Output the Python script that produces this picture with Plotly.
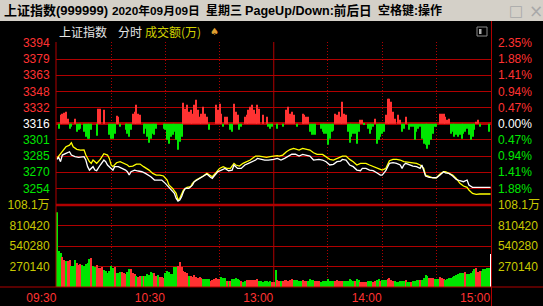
import plotly.graph_objects as go

# ---------------- data ----------------
prev_close = 3316.42
price_ticks = [3254.07, 3269.66, 3285.25, 3300.83, 3316.42, 3332.01, 3347.60, 3363.18, 3378.77, 3394.36]
price_labels = ["3254", "3270", "3285", "3301", "3316", "3332", "3348", "3363", "3379", "3394"]
pct_labels = ["1.88%", "1.41%", "0.94%", "0.47%", "0.00%", "0.47%", "0.94%", "1.41%", "1.88%", "2.35%"]
vol_ticks = [270140, 540280, 810420, 1080560]
vol_labels = ["270140", "540280", "810420", "108.1万"]
time_ticks = [0, 60, 120, 180, 240]
time_labels = ["09:30", "10:30", "13:00", "14:00", "15:00"]
grid_minutes = [30, 60, 90, 150, 180, 210]

white_min = [0, 1, 2, 3, 5, 7, 8, 10, 12, 14,
             15, 16, 17, 18, 19, 20, 21, 22, 24, 26,
             27, 28, 30, 31, 32, 34, 36, 38, 39, 40,
             41, 43, 45, 47, 49, 51, 52, 54, 56, 58,
             60, 62, 63, 65, 66, 67, 68, 69, 70, 71,
             73, 75, 76, 78, 80, 82, 83, 85, 86, 87,
             89, 91, 93, 95, 97, 98, 100, 102, 104, 106,
             108, 110, 111, 113, 115, 117, 119, 120, 122, 124,
             126, 128, 130, 132, 134, 136, 138, 140, 142, 144,
             145, 147, 149, 151, 153, 155, 157, 158, 160, 162,
             164, 166, 168, 169, 171, 173, 175, 177, 179, 180,
             182, 184, 186, 188, 190, 191, 192, 193, 195, 197,
             199, 201, 202, 203, 204, 206, 208, 210, 212, 214,
             215, 217, 219, 221, 223, 225, 227, 228, 230, 232,
             234, 236, 240]
white_px = [3282.0, 3283.9, 3279.8, 3286.2, 3287.8, 3289.4, 3286.2, 3284.6, 3283.9, 3283.9,
            3284.6, 3281.4, 3275.0, 3271.7, 3273.3, 3275.0, 3271.7, 3271.1, 3276.6, 3281.4,
            3279.8, 3276.6, 3273.3, 3271.7, 3275.0, 3275.0, 3273.3, 3271.7, 3270.1, 3266.9,
            3270.1, 3271.7, 3270.8, 3270.1, 3268.5, 3266.9, 3265.3, 3262.1, 3262.1, 3262.1,
            3258.9, 3255.0, 3252.4, 3249.2, 3244.4, 3241.8, 3242.8, 3246.0, 3250.8, 3254.0,
            3254.0, 3257.2, 3260.5, 3262.7, 3264.7, 3266.9, 3267.9, 3264.7, 3263.7, 3266.0,
            3270.1, 3271.7, 3273.3, 3271.1, 3271.7, 3276.6, 3273.3, 3273.3, 3276.6, 3278.2,
            3279.8, 3281.4, 3283.0, 3282.0, 3281.4, 3281.4, 3281.4, 3282.0, 3283.0, 3281.4,
            3283.0, 3284.6, 3287.0, 3287.0, 3285.2, 3286.8, 3286.2, 3285.2, 3281.4, 3282.0,
            3282.0, 3281.4, 3279.8, 3276.6, 3277.2, 3279.8, 3280.4, 3282.0, 3281.4, 3276.6,
            3275.0, 3271.7, 3271.1, 3273.3, 3273.3, 3271.7, 3271.1, 3269.1, 3266.9, 3266.9,
            3271.1, 3278.2, 3278.8, 3278.2, 3276.6, 3273.3, 3276.6, 3278.2, 3276.6, 3275.6,
            3275.0, 3273.3, 3276.6, 3271.7, 3265.9, 3264.7, 3264.7, 3264.3, 3266.9, 3270.1,
            3269.1, 3268.5, 3266.0, 3262.7, 3261.4, 3260.5, 3262.1, 3257.3, 3255.0, 3255.0,
            3255.6, 3255.0, 3255.0]

yellow_min = [0, 2, 4, 5, 7, 8, 9, 11, 13, 15,
              16, 18, 19, 20, 22, 24, 26, 28, 29, 30,
              31, 33, 35, 37, 39, 40, 42, 44, 46, 48,
              50, 51, 53, 55, 57, 59, 61, 62, 64, 66,
              67, 68, 70, 72, 74, 75, 77, 79, 81, 83,
              85, 86, 88, 90, 92, 94, 96, 98, 99, 101,
              103, 105, 107, 109, 110, 112, 114, 116, 118, 120,
              122, 123, 125, 127, 129, 131, 133, 134, 136, 138,
              140, 142, 144, 147, 149, 151, 153, 155, 157, 158,
              160, 162, 164, 166, 168, 171, 173, 175, 177, 179,
              180, 182, 184, 186, 188, 190, 192, 195, 197, 199,
              201, 203, 204, 206, 208, 210, 212, 214, 215, 217,
              219, 221, 223, 225, 227, 228, 230, 232, 234, 240]
yellow_px = [3283.0, 3287.8, 3292.6, 3294.2, 3295.8, 3298.1, 3294.2, 3291.7, 3291.0, 3291.2,
             3286.2, 3279.8, 3278.2, 3281.4, 3278.2, 3282.0, 3287.5, 3286.2, 3283.0, 3276.6,
             3275.0, 3278.8, 3279.8, 3278.2, 3276.6, 3275.0, 3275.6, 3277.5, 3277.5, 3275.0,
             3273.3, 3271.7, 3268.5, 3266.9, 3266.9, 3266.0, 3262.1, 3257.3, 3254.0, 3249.2,
             3242.8, 3244.4, 3252.4, 3255.0, 3255.6, 3258.9, 3262.1, 3263.7, 3266.0, 3268.5,
             3266.9, 3265.3, 3269.2, 3273.3, 3275.0, 3273.3, 3273.3, 3278.2, 3276.6, 3275.6,
             3278.2, 3279.8, 3281.4, 3284.0, 3285.2, 3285.2, 3284.6, 3284.0, 3284.6, 3285.2,
             3285.6, 3285.2, 3286.2, 3289.4, 3291.5, 3292.6, 3291.5, 3291.0, 3292.6, 3291.7,
             3291.0, 3288.4, 3286.8, 3286.8, 3284.6, 3282.0, 3281.4, 3283.0, 3284.6, 3285.2,
             3285.2, 3282.0, 3279.8, 3276.6, 3278.2, 3278.2, 3276.6, 3275.0, 3273.3, 3272.4,
             3271.7, 3273.3, 3280.7, 3282.0, 3282.0, 3281.4, 3279.8, 3278.8, 3278.8, 3278.2,
             3276.6, 3273.3, 3266.9, 3265.3, 3264.3, 3264.3, 3267.9, 3270.1, 3270.1, 3268.5,
             3266.9, 3263.7, 3258.9, 3256.3, 3255.0, 3252.4, 3249.2, 3248.2, 3248.6, 3248.6]

# buy/sell strength bars around the previous close (one per minute)
strength = [0, -5, 9, 10, 11, 12, 5, -5, -3, 0,
            5, -8, -6, -5, 0, -8, -13, -15, -15, -6,
            0, 0, -12, 15, 15, 0, 14, 0, 0, -11,
            -15, -15, -10, 8, 7, -3, 0, 0, -6, -10,
            -13, -6, 10, 12, 19, 10, 9, 0, -10, -5,
            -13, -19, -15, -10, -11, -5, 0, 0, 0, -5,
            -6, -16, -20, -13, -11, -8, -16, -26, -18, -13,
            21, 15, 19, 12, 14, 10, 19, 24, 14, 7,
            10, 17, 10, 7, -6, 0, 0, 0, 19, 14,
            20, 10, -3, 7, 7, 0, -6, -8, 20, 12,
            9, -6, -3, 0, 7, 9, 14, 17, 19, 14,
            10, 19, 15, 0, 9, 0, 7, -3, -5, -3,
            0, 0, -5, 0, 0, -3, 0, 14, 17, 10,
            12, 9, 0, -3, 0, 0, 10, 9, 7, 7,
            -8, -11, -11, -11, 0, 0, -5, -8, -10, -10,
            -21, -15, -8, -7, 10, 9, 12, 7, 22, 10,
            9, -8, -19, -13, -10, -10, -20, -8, 4, 4,
            -1, 0, -5, -10, -6, -3, 5, -20, -16, -13,
            -10, -8, 9, 25, 25, 22, 12, 5, 0, 9,
            4, -8, -5, 7, 0, -6, -3, -3, -16, -8,
            -5, -3, -15, -20, -21, -25, -21, -16, -10, -3,
            -3, 0, 10, 10, 10, 7, 4, 5, -10, -8,
            -13, -11, -13, -11, -15, -10, -8, -5, -11, -16,
            -13, -6, 2, 4, -3, 0, 0, 0, 0, -8]

# turnover per minute (万)
volume = [988000, 474000, 448000, 395000, 356000, 343000, 343000, 356000, 277000, 277000,
          356000, 316000, 290000, 303000, 290000, 277000, 303000, 316000, 369000, 382000,
          277000, 264000, 290000, 250000, 250000, 264000, 224000, 211000, 184000, 211000,
          277000, 250000, 264000, 184000, 184000, 198000, 198000, 184000, 171000, 198000,
          237000, 237000, 184000, 171000, 145000, 132000, 145000, 145000, 145000, 145000,
          171000, 158000, 198000, 184000, 184000, 145000, 158000, 132000, 132000, 119000,
          184000, 211000, 198000, 171000, 171000, 264000, 264000, 277000, 329000, 264000,
          211000, 198000, 184000, 145000, 145000, 132000, 158000, 132000, 119000, 132000,
          119000, 105000, 105000, 105000, 105000, 79000, 92000, 105000, 119000, 105000,
          105000, 132000, 119000, 119000, 79000, 79000, 79000, 105000, 105000, 119000,
          105000, 92000, 79000, 66000, 79000, 92000, 92000, 92000, 92000, 92000,
          92000, 105000, 79000, 79000, 66000, 79000, 79000, 66000, 79000, 66000,
          66000, 224000, 92000, 79000, 79000, 79000, 92000, 92000, 79000, 92000,
          105000, 92000, 92000, 92000, 79000, 79000, 92000, 79000, 79000, 79000,
          105000, 92000, 92000, 79000, 79000, 79000, 66000, 79000, 79000, 79000,
          105000, 79000, 79000, 79000, 79000, 92000, 79000, 79000, 79000, 79000,
          79000, 79000, 105000, 92000, 79000, 79000, 105000, 92000, 66000, 66000,
          66000, 66000, 79000, 79000, 79000, 66000, 79000, 92000, 105000, 79000,
          92000, 92000, 92000, 105000, 119000, 92000, 79000, 79000, 66000, 66000,
          79000, 79000, 79000, 92000, 66000, 66000, 66000, 79000, 79000, 92000,
          92000, 92000, 92000, 119000, 158000, 145000, 119000, 119000, 119000, 105000,
          105000, 105000, 132000, 119000, 105000, 92000, 105000, 119000, 119000, 132000,
          145000, 158000, 171000, 184000, 184000, 184000, 198000, 171000, 171000, 184000,
          211000, 237000, 250000, 198000, 211000, 211000, 237000, 237000, 250000, 250000,
          435000]
# r = up minute, g = down minute, w = closing auction
vol_dir = ("gggrrgrrgg" "grrrgggggr" "ggrrrrgggg" "ggrgggrrrg" "grrrgrrgrg"
           "ggggrrgrrr" "gggggggrrr" "rrrgrrrrrr" "rggggrrrrr" "rgggrgrggg"
           "ggrggrrrrr" "rrgggggggr" "rgrrgrrrrr" "rgggggrrrg" "gggrrrgggg"
           "ggggrrrrrg" "gggggrggrr" "rrgggrrggr" "gggrrrrggg" "gggrggrggg"
           "grggggrrrg" "ggrrrggggg" "ggggggrggg" "ggrrrggggg" "w")

title_parts = ["上证指数(999999)", "2020年09月09日", "星期三", "PageUp/Down:前后日", "空格键:操作"]

# ---------------- style ----------------
W, H = 543, 306
RED = "#ff3232"
GREEN = "#00e600"
GRID = "#b00000"
YEL_TXT = "#c8c800"
FONT = "Liberation Sans, Noto Sans CJK SC, sans-serif"


def px_x(p):
    return p / W


def px_y(p):
    return 1 - p / H


X_DOM = [px_x(56), px_x(491.5)]
X_RANGE = [-0.5, 240.5]
step = price_ticks[5] - price_ticks[4]
P_RANGE = [prev_close - 5.03 * step, prev_close + 5.06 * step]
S_RANGE = [-81.3, 81.7]
V_RANGE = [0, vol_ticks[-1] * 1.002]


def tcol(v):
    if abs(v - prev_close) < 0.5:
        return "#ffffff"
    return RED if v > prev_close else GREEN


left_text = ['<span style="color:%s">%s</span>' % (tcol(v), t) for v, t in zip(price_ticks, price_labels)]
right_text = ['<span style="color:%s">%s</span>' % (tcol(v), t) for v, t in zip(price_ticks, pct_labels)]

minutes = list(range(len(volume)))
vcolor_map = {"r": RED, "g": GREEN, "w": "#ffffff"}
vol_colors = [vcolor_map[c] for c in vol_dir]
s_minutes = list(range(len(strength)))
s_colors = [RED if v > 0 else GREEN for v in strength]

fig = go.Figure()
fig.add_trace(go.Bar(x=s_minutes, y=strength, xaxis="x", yaxis="y3", width=0.55,
                     marker=dict(color=s_colors, line=dict(width=0)), hoverinfo="skip"))
fig.add_trace(go.Scatter(x=yellow_min, y=yellow_px, xaxis="x", yaxis="y", mode="lines",
                         line=dict(color="#ffff00", width=1.3), hoverinfo="skip"))
fig.add_trace(go.Scatter(x=white_min, y=white_px, xaxis="x", yaxis="y", mode="lines",
                         line=dict(color="#ffffff", width=1.3), hoverinfo="skip"))
fig.add_trace(go.Bar(x=minutes, y=volume, xaxis="x2", yaxis="y2", width=0.55,
                     marker=dict(color=vol_colors, line=dict(width=0)), hoverinfo="skip"))
# carriers for the overlay axes
fig.add_trace(go.Scatter(x=[None], y=[None], xaxis="x", yaxis="y4", mode="lines", hoverinfo="skip"))
fig.add_trace(go.Scatter(x=[None], y=[None], xaxis="x2", yaxis="y5", mode="lines", hoverinfo="skip"))
fig.add_trace(go.Scatter(x=[None], y=[None], xaxis="x3", yaxis="y2", mode="lines", hoverinfo="skip"))

tickfont = dict(family=FONT, size=12)
xgrid = dict(domain=X_DOM, range=X_RANGE, tickvals=grid_minutes, showgrid=True, gridcolor=GRID,
             griddash="1px,2px", gridwidth=1, showticklabels=False, zeroline=False, showline=False,
             ticks="", fixedrange=True, automargin=False)
ycommon = dict(automargin=False, zeroline=False, showline=False, ticks="outside", ticklen=3,
               tickcolor="rgba(0,0,0,0)")

fig.update_layout(
    width=W, height=H, margin=dict(l=0, r=0, t=0, b=0, pad=0, autoexpand=False),
    paper_bgcolor="#000000", plot_bgcolor="#000000", showlegend=False, barmode="overlay",
    xaxis=dict(anchor="y", **xgrid),
    xaxis2=dict(anchor="y2", **xgrid),
    xaxis3=dict(anchor="y2", overlaying="x2", domain=X_DOM, range=X_RANGE, tickvals=time_ticks,
                ticktext=time_labels, ticklabelposition="outside left", showgrid=False, zeroline=False,
                ticks="outside", ticklen=2, tickcolor="rgba(0,0,0,0)", automargin=False,
                tickfont=dict(family=FONT, size=12, color=RED), showline=False),
    yaxis=dict(anchor="x", domain=[px_y(205), px_y(42)], range=P_RANGE, tickvals=price_ticks,
               ticktext=left_text, showgrid=True, gridcolor=GRID, gridwidth=1, tickfont=tickfont, **ycommon),
    yaxis3=dict(overlaying="y", anchor="x", range=S_RANGE, showgrid=False, showticklabels=False,
                zeroline=True, zerolinecolor=GRID, zerolinewidth=2.5, ticks="", automargin=False),
    yaxis4=dict(overlaying="y", anchor="x", side="right", range=P_RANGE, tickvals=price_ticks,
                ticktext=right_text, showgrid=False, tickfont=tickfont, **ycommon),
    yaxis2=dict(anchor="x2", domain=[px_y(287), px_y(205)], range=V_RANGE, tickvals=vol_ticks,
                ticktext=vol_labels, showgrid=True, gridcolor=GRID, gridwidth=1,
                tickfont=dict(family=FONT, size=12, color=YEL_TXT), **ycommon),
    yaxis5=dict(overlaying="y2", anchor="x2", side="right", range=V_RANGE, tickvals=vol_ticks,
                ticktext=vol_labels, showgrid=False,
                tickfont=dict(family=FONT, size=12, color=YEL_TXT), **ycommon),
)

shapes = [
    # title bar
    dict(type="rect", xref="paper", yref="paper", x0=0, x1=1, y0=px_y(21), y1=1,
         fillcolor="#d4d0c8", line=dict(width=0), layer="above"),
    # frame
    dict(type="line", xref="paper", yref="paper", x0=px_x(56), x1=px_x(56), y0=px_y(287), y1=px_y(42),
         line=dict(color=GRID, width=1)),
    dict(type="line", xref="paper", yref="paper", x0=px_x(491.5), x1=px_x(491.5), y0=0, y1=px_y(21),
         line=dict(color=GRID, width=1)),
    dict(type="line", xref="paper", yref="paper", x0=px_x(56), x1=px_x(491.5), y0=px_y(205), y1=px_y(205),
         line=dict(color=GRID, width=2.5)),
    dict(type="line", xref="paper", yref="paper", x0=0, x1=1, y0=px_y(287), y1=px_y(287),
         line=dict(color=GRID, width=1)),
    # 13:00 session divider
    dict(type="line", xref="x", yref="paper", x0=120, x1=120, y0=px_y(287), y1=px_y(42),
         line=dict(color=GRID, width=1), layer="below"),
    # small toggle icon
    dict(type="rect", xref="paper", yref="paper", x0=px_x(477), x1=px_x(487), y0=px_y(36), y1=px_y(27),
         line=dict(color="#8a8a8a", width=1), fillcolor="rgba(0,0,0,0)"),
    dict(type="rect", xref="paper", yref="paper", x0=px_x(479), x1=px_x(481.5), y0=px_y(34), y1=px_y(29),
         line=dict(width=0), fillcolor="#b0b0b0"),
]
fig.update_layout(shapes=shapes)

title_x = [2, 110, 204, 243, 376]
title_size = [13, 11.8, 12, 12.6, 12]
ann = []
for t, xp, fs in zip(title_parts, title_x, title_size):
    ann.append(dict(text="<b>%s</b>" % t, x=px_x(xp), y=px_y(11),
                    font=dict(family=FONT, size=fs, color="#000000")))
ann += [
    dict(text="□", x=px_x(507), y=px_y(11), font=dict(family="DejaVu Sans", size=15, color="#a8a8a8")),
    dict(text="×", x=px_x(527), y=px_y(11), font=dict(family="DejaVu Sans", size=17, color="#a8a8a8")),
    dict(text="上证指数", x=px_x(57), y=px_y(32), font=dict(family="Noto Sans CJK SC", size=12, color="#e6e6e6")),
    dict(text="分时", x=px_x(116), y=px_y(32), font=dict(family="Noto Sans CJK SC", size=12, color="#e6e6e6")),
    dict(text="成交额(万)", x=px_x(143), y=px_y(32), font=dict(family="Noto Sans CJK SC", size=12, color="#d2d200")),
    dict(text="♠", x=px_x(208), y=px_y(32), font=dict(family="DejaVu Sans", size=10, color="#e0a030")),
]
for a in ann:
    a.update(xref="paper", yref="paper", xanchor="left", yanchor="middle", showarrow=False)
fig.update_layout(annotations=ann)

fig.write_html("out.html")
